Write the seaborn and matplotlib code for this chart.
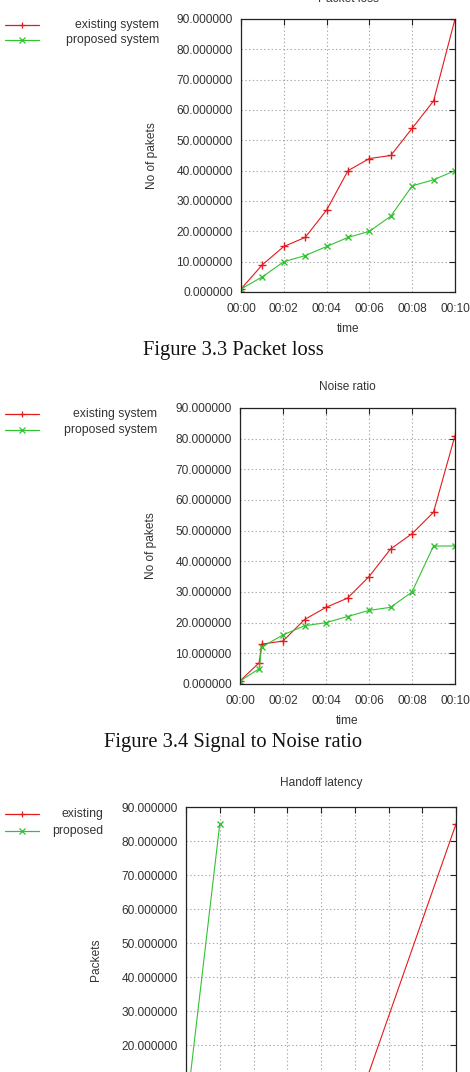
import numpy as np
import pandas as pd
import matplotlib
matplotlib.use("Agg")
import matplotlib.pyplot as plt
from matplotlib.lines import Line2D
import seaborn as sns

# ------------------------------------------------------------------
# Data
# ------------------------------------------------------------------
loss_time = [0, 1, 2, 3, 4, 5, 6, 7, 8, 9, 10]
loss_existing = [1, 9, 15, 18, 27, 40, 44, 45, 54, 63, 90]
loss_proposed = [1, 5, 10, 12, 15, 18, 20, 25, 35, 37, 40]

noise_time = [0, 0.9, 1, 2, 3, 4, 5, 6, 7, 8, 9, 10]
noise_existing = [1, 7, 13, 14, 21, 25, 28, 35, 44, 49, 56, 81]
noise_proposed = [1, 5, 12, 16, 19, 20, 22, 24, 25, 30, 45, 45]

latency_time_existing = [5, 8]
latency_existing = [0, 85]
latency_time_proposed = [0, 1]
latency_proposed = [0, 85]

time_ticks = [0, 2, 4, 6, 8, 10]
time_labels = ["00:00", "00:02", "00:04", "00:06", "00:08", "00:10"]
y_ticks = [0, 10, 20, 30, 40, 50, 60, 70, 80, 90]

RED = "#e41a1c"
GREEN = "#33c233"
TXT = "#333333"

sns.set_style("white")
plt.rcParams["font.family"] = ["Liberation Sans", "DejaVu Sans"]

W, H = 470, 1072
fig = plt.figure(figsize=(W / 100, H / 100), dpi=100)


def px_axes(left, right, top, bottom):
    return fig.add_axes([left / W, 1 - bottom / H, (right - left) / W, (bottom - top) / H])


def style_axes(ax, xticks, xlabels, xlim, title, title_pad, ylabel, ylabel_pad, ylabels):
    ax.set_xlim(*xlim)
    ax.set_ylim(0, 90)
    ax.set_xticks(xticks)
    ax.set_xticklabels(xlabels)
    ax.set_yticks(y_ticks)
    ax.set_yticklabels(ylabels)
    ax.grid(True, color="#a8a8a8", linestyle=(0, (1.2, 2.2)), linewidth=0.8)
    ax.tick_params(direction="in", length=4, width=0.8, colors="#222222",
                   labelcolor=TXT, labelsize=8.6, top=True, right=True)
    ax.tick_params(axis="x", pad=8)
    ax.tick_params(axis="y", pad=6)
    for s in ax.spines.values():
        s.set_color("#222222")
        s.set_linewidth(0.9)
    ax.set_title(title, fontsize=8.6, color=TXT, pad=title_pad)
    ax.set_ylabel(ylabel, fontsize=8.6, color=TXT, labelpad=ylabel_pad)
    if ax.get_legend() is not None:
        ax.get_legend().remove()


def key(rows_y, text_right, labels):
    # gnuplot style key: sample line on the left, right-aligned text
    for (y, lab, col, mk) in zip(rows_y, labels, [RED, GREEN], ["+", "x"]):
        fy = 1 - y / H
        fig.add_artist(Line2D([5 / W, 39 / W], [fy, fy], color=col, lw=0.9,
                              transform=fig.transFigure))
        fig.add_artist(Line2D([22 / W], [fy], color=col, marker=mk, markersize=4,
                              markeredgewidth=0.9, transform=fig.transFigure))
        fig.text(text_right / W, fy, lab, ha="right", va="center",
                 fontsize=8.8, color=TXT)


def caption(y, text):
    fig.text(233 / W, 1 - y / H, text, ha="center", va="center",
             fontsize=14.8, family=["Liberation Serif", "DejaVu Serif"], color="#111111")


full_labels = [f"{v:.6f}" for v in y_ticks]

# ------------------------------------------------------------------
# Figure 3.3 Packet loss (title mostly above the page edge, as in the source)
# ------------------------------------------------------------------
ax1 = px_axes(241, 455, 19, 292)
sns.lineplot(x=loss_time, y=loss_existing, ax=ax1, color=RED, marker="+",
             markersize=6, markeredgewidth=1, markeredgecolor=RED, linewidth=0.8)
sns.lineplot(x=loss_time, y=loss_proposed, ax=ax1, color=GREEN, marker="x",
             markersize=4.5, markeredgewidth=1, markeredgecolor=GREEN, linewidth=0.8)
style_axes(ax1, time_ticks, time_labels, (0, 10), "Packet loss", 12,
           "No of pakets", 13, full_labels)
ax1.set_xlabel("time", fontsize=8.6, color=TXT, labelpad=6)
key([25, 40], 159, ["existing system", "proposed system"])
caption(350, "Figure 3.3 Packet loss")

# ------------------------------------------------------------------
# Figure 3.4 Signal to Noise ratio
# ------------------------------------------------------------------
ax2 = px_axes(240, 455, 408, 684)
sns.lineplot(x=noise_time, y=noise_existing, ax=ax2, color=RED, marker="+",
             markersize=6, markeredgewidth=1, markeredgecolor=RED, linewidth=0.8)
sns.lineplot(x=noise_time, y=noise_proposed, ax=ax2, color=GREEN, marker="x",
             markersize=4.5, markeredgewidth=1, markeredgecolor=GREEN, linewidth=0.8)
style_axes(ax2, time_ticks, time_labels, (0, 10), "Noise ratio", 13,
           "No of pakets", 13, full_labels)
ax2.set_xlabel("time", fontsize=8.6, color=TXT, labelpad=6)
key([414, 430], 157, ["existing system", "proposed system"])
caption(743, "Figure 3.4 Signal to Noise ratio")

# ------------------------------------------------------------------
# Handoff latency (cut off at the bottom of the page)
# ------------------------------------------------------------------
ax3 = px_axes(186, 456, 807, 1113)
sns.lineplot(x=latency_time_existing, y=latency_existing, ax=ax3, color=RED, marker="+",
             markersize=6, markeredgewidth=1, markeredgecolor=RED, linewidth=0.8)
sns.lineplot(x=latency_time_proposed, y=latency_proposed, ax=ax3, color=GREEN, marker="x",
             markersize=4.5, markeredgewidth=1, markeredgecolor=GREEN, linewidth=0.8)
# labels for 0 and 10 fall below the page edge
style_axes(ax3, list(range(9)), [""] * 9, (0, 8), "Handoff latency", 15,
           "Packets", 14, ["", ""] + full_labels[2:])
key([814, 831], 103, ["existing", "proposed"])

fig.savefig("out.png", dpi=100)
